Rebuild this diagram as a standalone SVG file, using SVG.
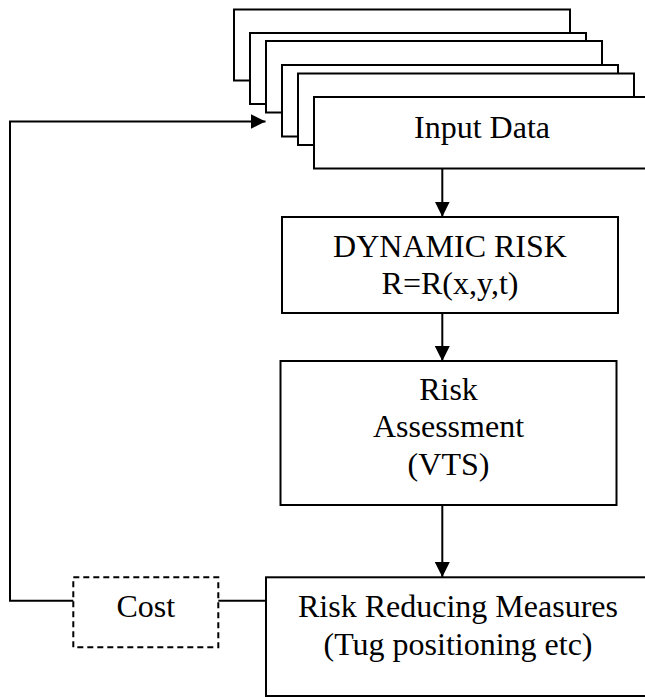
<svg xmlns="http://www.w3.org/2000/svg" width="645" height="697" viewBox="0 0 645 697">
<style>
.box{fill:#fff;stroke:#000;stroke-width:2}
.dash{fill:#fff;stroke:#000;stroke-width:2;stroke-dasharray:6,4}
.t{font-family:"Liberation Serif","Times New Roman",serif;font-size:32px;fill:#000;text-anchor:middle}
.ln{fill:none;stroke:#000;stroke-width:2}
</style>
<defs>
<marker id="ah" markerUnits="userSpaceOnUse" markerWidth="15" markerHeight="15" refX="15" refY="7.5" orient="auto">
<path d="M0,0 L15,7.5 L0,15 z" fill="#000"/>
</marker>
</defs>
<rect width="645" height="697" fill="#fff"/>
<g id="input-data">
<rect class="box" x="234" y="9.5" width="336" height="71"/>
<rect class="box" x="250" y="33" width="336" height="71"/>
<rect class="box" x="266" y="41" width="336" height="71.5"/>
<rect class="box" x="282" y="65" width="336" height="71.5"/>
<rect class="box" x="298" y="73.5" width="336" height="71.5"/>
<rect class="box" x="314" y="97" width="336" height="71.5"/>
<text class="t" x="482" y="138">Input Data</text>
</g>
<g id="dynamic-risk">
<rect class="box" x="282" y="217" width="336" height="96"/>
<text class="t" x="450" y="257.3">DYNAMIC RISK</text>
<text class="t" x="450" y="294">R=R(x,y,t)</text>
</g>
<g id="risk-assessment">
<rect class="box" x="280.5" y="361" width="336" height="144"/>
<text class="t" x="448.5" y="400">Risk</text>
<text class="t" x="448.5" y="437.3">Assessment</text>
<text class="t" x="448.5" y="475">(VTS)</text>
</g>
<g id="risk-reducing">
<rect class="box" x="266" y="577.3" width="384" height="118.7"/>
<text class="t" x="458" y="616.7">Risk Reducing Measures</text>
<text class="t" x="458" y="655">(Tug positioning etc)</text>
</g>
<g id="cost">
<rect class="dash" x="73.3" y="577.3" width="145" height="70"/>
<text class="t" x="145.8" y="617.3">Cost</text>
</g>
<g id="connectors">
<line class="ln" x1="442.3" y1="168.5" x2="442.3" y2="216.7" marker-end="url(#ah)"/>
<line class="ln" x1="442.3" y1="313" x2="442.3" y2="361" marker-end="url(#ah)"/>
<line class="ln" x1="442.3" y1="505" x2="442.3" y2="577" marker-end="url(#ah)"/>
<line class="ln" x1="218.3" y1="600.7" x2="266" y2="600.7"/>
<polyline class="ln" points="73.3,600.7 10,600.7 10,121.5 265.5,121.5" marker-end="url(#ah)"/>
</g>
</svg>
